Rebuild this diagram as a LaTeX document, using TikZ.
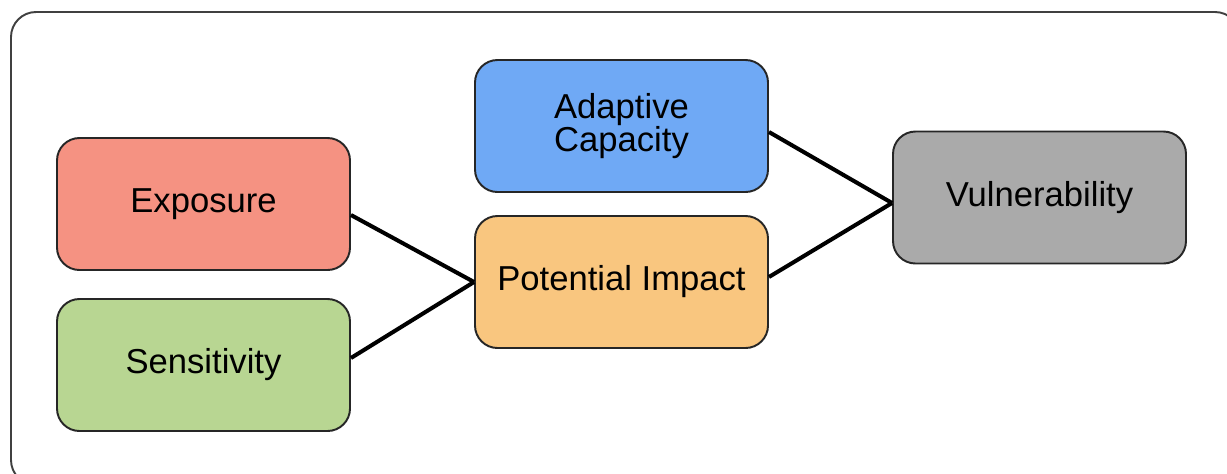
\documentclass[tikz,border=0pt]{standalone}
\usepackage{fontspec}
\setmainfont{Liberation Sans}
\usetikzlibrary{positioning}
\usetikzlibrary{arrows.meta}
\definecolor{expred}{RGB}{245,146,130}
\definecolor{sensgreen}{RGB}{184,214,146}
\definecolor{adapblue}{RGB}{111,169,245}
\definecolor{imporange}{RGB}{249,198,127}
\definecolor{vulgray}{RGB}{170,170,170}
\tikzset{
    factor/.style = {rectangle, rounded corners=0.45cm, line width=1.1pt, draw=black!85, align=center,
                     minimum width=5.86cm, minimum height=2.64cm, inner sep=0pt,
                     font=\fontsize{19.7}{18.7}\selectfont},
    factorr/.style = {factor, fill=expred},
    factorg/.style = {factor, fill=sensgreen},
    factorb/.style = {factor, fill=adapblue},
    factoro/.style = {factor, fill=imporange},
    factork/.style = {factor, fill=vulgray},
    link/.style = {line width=2.3pt, black},
    frame/.style = {line width=1.1pt, draw=black!75, rounded corners=0.5cm}
}
\begin{document}
\begin{tikzpicture}
\useasboundingbox (0,0) rectangle (24.54,-9.46);
\draw[frame] (0.22,-0.24) rectangle (24.8,-9.7);
%
\node[factorr] at (4.07,-4.08) (ex) {Exposure};
\node[factorg] at (4.07,-7.30) (se) {Sensitivity};
\node[factorb] at (12.43,-2.52) (ac) {Adaptive\\Capacity};
\node[factoro] at (12.43,-5.64) (pi) {Potential Impact};
\node[factork] at (20.79,-3.95) (vu) {Vulnerability};
%
\draw[link] ([yshift=-0.22cm]ex.east) -- (pi.west);
\draw[link] ([yshift=0.14cm]se.east) -- (pi.west);
\draw[link] ([yshift=-0.12cm]ac.east) -- ([yshift=-0.11cm]vu.west);
\draw[link] ([yshift=0.1cm]pi.east) -- ([yshift=-0.11cm]vu.west);
\end{tikzpicture}
\end{document}
